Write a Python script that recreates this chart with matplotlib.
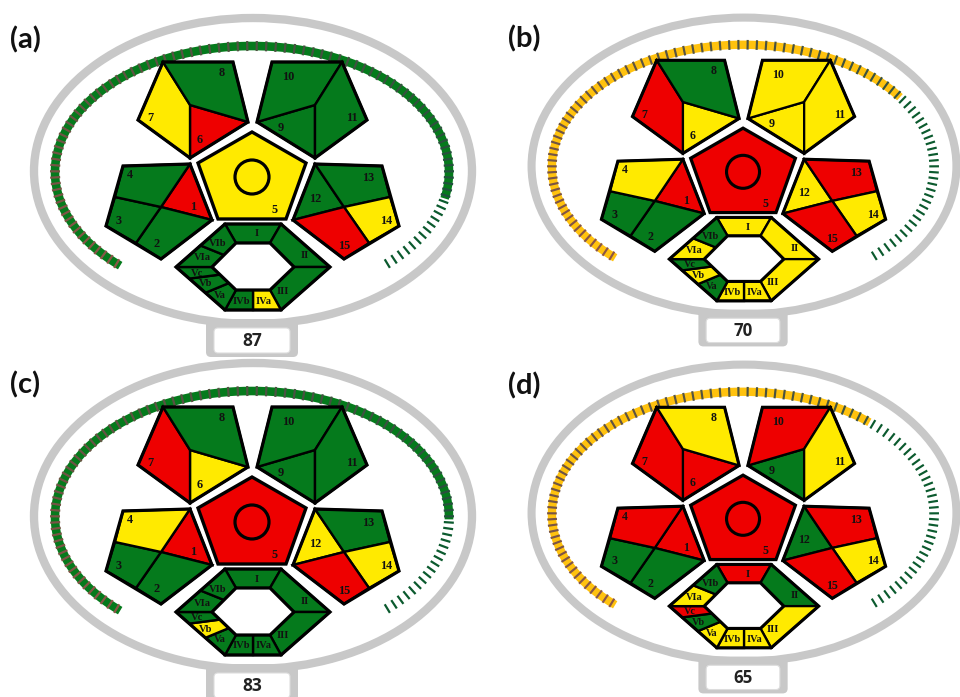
import numpy as np
import matplotlib

matplotlib.use("Agg")
import matplotlib.pyplot as plt
from matplotlib.patches import Circle, Ellipse, FancyBboxPatch, Polygon

# ---- data -------------------------------------------------------------
PANEL_LABELS = ["(a)", "(b)", "(c)", "(d)"]
SCORES = [87, 70, 83, 65]

PENTA_REGIONS = ["1", "2", "3", "4", "5", "6", "7", "8", "9", "10", "11", "12", "13", "14", "15"]
HEX_REGIONS = ["I", "II", "III", "IVa", "IVb", "Va", "Vb", "Vc", "VIa", "VIb"]

# G = green, Y = yellow, R = red (same order as the region lists)
PENTA_A = ["R", "G", "G", "G", "Y", "R", "Y", "G", "G", "G", "G", "G", "G", "Y", "R"]
HEX_A = ["G", "G", "G", "Y", "G", "G", "G", "G", "G", "G"]
PENTA_B = ["R", "G", "G", "Y", "R", "Y", "R", "G", "Y", "Y", "Y", "Y", "R", "Y", "R"]
HEX_B = ["Y", "Y", "Y", "Y", "Y", "G", "Y", "G", "Y", "G"]
PENTA_C = ["R", "G", "G", "Y", "R", "Y", "R", "G", "G", "G", "G", "Y", "G", "Y", "R"]
HEX_C = ["G", "G", "G", "G", "G", "G", "Y", "G", "G", "G"]
PENTA_D = ["R", "G", "G", "R", "R", "R", "R", "Y", "G", "R", "Y", "G", "R", "Y", "R"]
HEX_D = ["R", "G", "Y", "Y", "Y", "Y", "G", "R", "Y", "G"]

PENTA_COLS = [PENTA_A, PENTA_B, PENTA_C, PENTA_D]
HEX_COLS = [HEX_A, HEX_B, HEX_C, HEX_D]

# ---- styling ----------------------------------------------------------
FILL = {"G": "#057A1C", "Y": "#FFEA00", "R": "#EE0000"}
GRAY = "#C8C8C8"
TICK_START = np.array([140, 85, 70]) / 255
TICK_END = np.array([15, 80, 60]) / 255

# panel placement: ring centre in pixels and scale
PANEL_POS = [(253, 171, 1.0), (744, 166, 0.97), (253, 516, 1.0), (744, 513, 0.97)]
REF = (253, 171)


def mirror(p):
    return (505 - p[0], p[1])


def build_geometry():
    geo = {}
    # top-left pentagon
    T, TR, R, B, L, I = (163, 62), (233, 62), (248, 122), (190, 158), (138, 120), (190, 105)
    geo["7"] = [T, I, B, L]
    geo["8"] = [T, TR, R, I]
    geo["6"] = [I, R, B]
    geo["11"] = [mirror(p) for p in geo["7"]]
    geo["10"] = [mirror(p) for p in geo["8"]]
    geo["9"] = [mirror(p) for p in geo["6"]]
    # left pentagon
    TL, TR, R, B, L = (123, 166), (190, 164), (212, 220), (161, 259), (106, 226)
    I, P1, P2 = (161, 207), (115, 197), (136, 243)
    geo["4"] = [TL, TR, I, P1]
    geo["1"] = [TR, R, I]
    geo["2"] = [I, R, B, P2]
    geo["3"] = [P1, I, P2, L]
    geo["13"] = [mirror(p) for p in geo["4"]]
    geo["12"] = [mirror(p) for p in geo["1"]]
    geo["15"] = [mirror(p) for p in geo["2"]]
    geo["14"] = [mirror(p) for p in geo["3"]]
    geo["5"] = [(252, 132), (306, 163), (286, 219), (218, 219), (198, 163)]

    outlines = {
        "tl": [(163, 62), (233, 62), (248, 122), (190, 158), (138, 120)],
        "l": [(123, 166), (190, 164), (212, 220), (161, 259), (106, 226)],
    }
    outlines["tr"] = [mirror(p) for p in outlines["tl"]]
    outlines["r"] = [mirror(p) for p in outlines["l"]]

    # hexagon
    cx, cy = 253, 267
    oTL, oTR, oR = (cx - 28, cy - 43), (cx + 28, cy - 43), (cx + 77, cy)
    oBR, oBL, oL = (cx + 28, cy + 43), (cx - 28, cy + 43), (cx - 77, cy)
    iTL, iTR, iR = (cx - 17, cy - 24), (cx + 17, cy - 24), (cx + 41, cy)
    iBR, iBL, iL = (cx + 17, cy + 23), (cx - 17, cy + 23), (cx - 41, cy)

    def lerp(a, b, t):
        return (a[0] + (b[0] - a[0]) * t, a[1] + (b[1] - a[1]) * t)

    hexg = {}
    hexg["I"] = [oTL, oTR, iTR, iTL]
    hexg["II"] = [oTR, oR, iR, iTR]
    hexg["III"] = [oR, oBR, iBR, iR]
    oBM, iBM = (cx, cy + 43), (cx, cy + 23)
    hexg["IVa"] = [iBM, iBR, oBR, oBM]
    hexg["IVb"] = [iBL, iBM, oBM, oBL]
    po, pi = [0, 0.27, 0.6, 1], [0, 0.33, 0.7, 1]
    for k, name in enumerate(["Vc", "Vb", "Va"]):
        hexg[name] = [lerp(oL, oBL, po[k]), lerp(oL, oBL, po[k + 1]),
                      lerp(iL, iBL, pi[k + 1]), lerp(iL, iBL, pi[k])]
    for k, name in enumerate(["VIa", "VIb"]):
        hexg[name] = [lerp(oL, oTL, k / 2), lerp(oL, oTL, (k + 1) / 2),
                      lerp(iL, iTL, (k + 1) / 2), lerp(iL, iTL, k / 2)]
    hex_outline = [oTL, oTR, oR, oBR, oBL, oL]
    hex_inner = [iTL, iTR, iR, iBR, iBL, iL]
    return geo, outlines, hexg, hex_outline, hex_inner


LABEL_POS = {
    "1": (193, 207), "2": (157, 244), "3": (119, 221), "4": (130, 175), "5": (275, 210),
    "6": (200, 140), "7": (150, 118), "8": (222, 73), "9": (281, 128), "10": (288, 77),
    "11": (352, 118), "12": (315, 199), "13": (368, 178), "14": (386, 221), "15": (344, 246),
}
HEX_LABEL_POS = {
    "I": (257, 234), "II": (305, 256), "III": (283, 291), "IVa": (264, 301), "IVb": (241, 301),
    "Va": (220, 295), "Vb": (206, 284), "Vc": (197, 273), "VIa": (202, 258), "VIb": (218, 244),
}


def draw_panel(ax, label, score, penta, hexc, pos):
    cx, cy, s = pos

    def tr(pts):
        return [(cx + s * (x - REF[0]), cy + s * (y - REF[1])) for x, y in pts]

    geo, outlines, hexg, hex_outline, hex_inner = build_geometry()

    # outer ring and score stand
    c = tr([(253, 171)])[0]
    ax.add_patch(Ellipse(c, 2 * 219 * s, 2 * 153 * s, fill=False, ec=GRAY, lw=6.0 * s, zorder=1))
    x0, y0 = tr([(206, 319)])[0]
    ax.add_patch(FancyBboxPatch((x0, y0), 92 * s, 38 * s, boxstyle="round,pad=0,rounding_size=5",
                                fc=GRAY, ec="none", zorder=2))
    x0, y0 = tr([(214, 328)])[0]
    ax.add_patch(FancyBboxPatch((x0, y0), 76 * s, 25 * s, boxstyle="round,pad=0,rounding_size=4",
                                fc="white", ec="#DDDDDD", lw=0.8, zorder=3))
    tx, ty = tr([(252, 341)])[0]
    ax.text(tx, ty, str(score), ha="center", va="center", fontsize=12.5 * s, fontweight="bold",
            family="Open Sans", color="#222222", zorder=4)

    # score arc
    a, b, acx, acy = 197, 126, 252, 172
    t0, span = np.radians(228), np.radians(276)
    band = "#057A1C" if score >= 75 else "#FFC20E"
    tt = np.linspace(t0, t0 - span * score / 100, 300)
    pts = tr(list(zip(acx + a * np.cos(tt), acy - b * np.sin(tt))))
    ax.plot([p[0] for p in pts], [p[1] for p in pts], color=band, lw=6.2 * s,
            solid_capstyle="butt", zorder=5)
    for i in range(100):
        t = t0 - span * (i + 0.5) / 100
        px, py = acx + a * np.cos(t), acy - b * np.sin(t)
        nx, ny = np.cos(t) / a, -np.sin(t) / b
        nn = np.hypot(nx, ny)
        nx, ny = nx / nn, ny / nn
        col = TICK_START + (TICK_END - TICK_START) * i / 99
        if i >= score:
            col = "#0B5A2E"
        seg = tr([(px - 5 * nx, py - 5 * ny), (px + 5 * nx, py + 5 * ny)])
        ax.plot([seg[0][0], seg[1][0]], [seg[0][1], seg[1][1]], color=col, lw=1.6 * s,
                solid_capstyle="butt", zorder=6)

    # pentagons
    for name, code in zip(PENTA_REGIONS, penta):
        lw = 2.4 if name == "5" else 1.7
        ax.add_patch(Polygon(tr(geo[name]), closed=True, fc=FILL[code], ec="black",
                             lw=lw * s, joinstyle="miter", zorder=7))
    for ol in outlines.values():
        ax.add_patch(Polygon(tr(ol), closed=True, fill=False, ec="black", lw=2.3 * s,
                             joinstyle="miter", zorder=8))
    cc = tr([(252, 177)])[0]
    ax.add_patch(Circle(cc, 17 * s, fill=False, ec="black", lw=2.3 * s, zorder=8))
    for name in PENTA_REGIONS:
        lx, ly = tr([LABEL_POS[name]])[0]
        ax.text(lx, ly, name, ha="center", va="center", fontsize=8.8 * s, fontweight="bold",
                family="Liberation Serif", color="#111111", zorder=9)

    # hexagon
    for name, code in zip(HEX_REGIONS, hexc):
        ax.add_patch(Polygon(tr(hexg[name]), closed=True, fc=FILL[code], ec="black",
                             lw=1.7 * s, joinstyle="miter", zorder=7))
        lx, ly = tr([HEX_LABEL_POS[name]])[0]
        ax.text(lx, ly, name, ha="center", va="center", fontsize=7.6 * s, fontweight="bold",
                family="Liberation Serif", color="#111111", zorder=9)
    ax.add_patch(Polygon(tr(hex_outline), closed=True, fill=False, ec="black", lw=2.3 * s,
                         joinstyle="miter", zorder=8))
    ax.add_patch(Polygon(tr(hex_inner), closed=True, fc="white", ec="black", lw=2.3 * s,
                         joinstyle="miter", zorder=8))

    # panel letter
    lx, ly = tr([(10, 40)])[0]
    ax.text(lx, ly, label, ha="left", va="center", fontsize=21, fontweight="bold",
            family="Lato", color="#111111", zorder=10)


def main():
    fig = plt.figure(figsize=(9.6, 6.97), dpi=100)
    ax = fig.add_axes([0, 0, 1, 1])
    ax.set_xlim(0, 960)
    ax.set_ylim(697, 0)
    ax.axis("off")
    for k in range(4):
        draw_panel(ax, PANEL_LABELS[k], SCORES[k], PENTA_COLS[k], HEX_COLS[k], PANEL_POS[k])
    fig.savefig("out.png", dpi=100, facecolor="white")
    plt.close(fig)


if __name__ == "__main__":
    main()
